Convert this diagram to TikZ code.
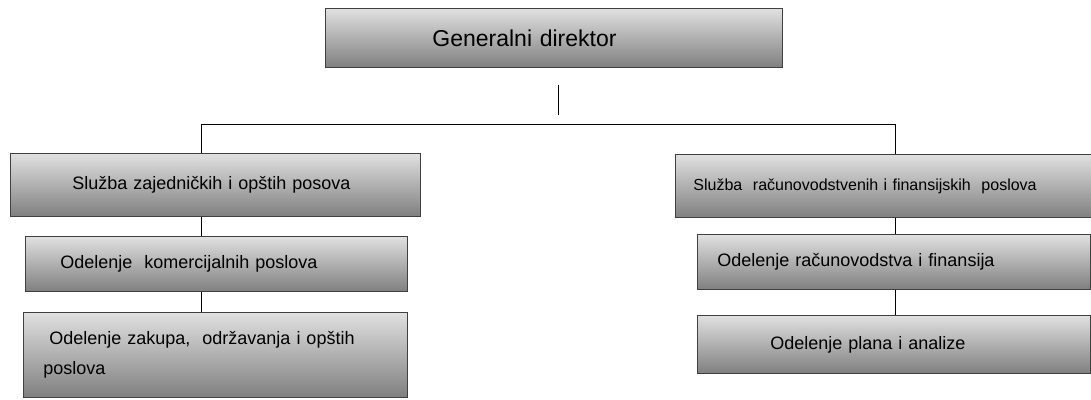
\documentclass[tikz,border=0pt]{standalone}
\usepackage{fontspec}
\setmainfont{Liberation Sans}
\tikzset{
	unit/.style={draw=black!75, line width=0.8pt, anchor=north west, align=left,
		top color=black!12, bottom color=black!50, inner ysep=0pt,
		font=\fontsize{18}{30}\selectfont},
	link/.style={line width=1pt}
}
\begin{document}
\begin{tikzpicture}[x=1pt,y=1pt]
	\useasboundingbox (0,0) rectangle (1091,399);
	\node [unit, minimum width=457, minimum height=59, inner xsep=107, text width=243,
		font=\fontsize{23}{28}\selectfont] (gd) at (325,391) {Generalni direktor};
	% left
	\node [unit, minimum width=410, minimum height=63, inner xsep=62, text width=286]
		(ls) at (10,246) {Služba zajedničkih i opštih posova};
	\node [unit, minimum width=382, minimum height=55, inner xsep=35, text width=312]
		(lk) at (25,163) {Odelenje~ komercijalnih poslova};
	\node [unit, minimum width=384, minimum height=85, inner xsep=20, text width=344]
		(lo) at (23,87) {\hspace*{6pt}Odelenje zakupa,~ održavanja i opštih\\poslova};
	% right
	\node [unit, minimum width=416, minimum height=63, inner xsep=18, text width=380,
		font=\fontsize{16}{20}\selectfont] (rs) at (675,245)
		{Služba~ računovodstvenih i finansijskih~ poslova};
	\node [unit, minimum width=393, minimum height=55, inner xsep=20, text width=353]
		(rr) at (697,165) {Odelenje računovodstva i finansija};
	\node [unit, minimum width=393, minimum height=58, inner xsep=73, text width=247]
		(rp) at (697,84) {Odelenje plana i analize};
	\coordinate (top) at (558,274);
	\coordinate (lbar) at (201,274);
	\coordinate (rbar) at (895,274);
	\draw [link, shorten <=17pt, shorten >=10pt] (top |- gd.south) -- (top);
	\draw [link] (lbar |- ls.north) -- (lbar) -- (rbar) -- (rbar |- rs.north);
	\draw [link] (lbar |- ls.south) -- (lbar |- lk.north);
	\draw [link] (lbar |- lk.south) -- (lbar |- lo.north);
	\draw [link] (rbar |- rs.south) -- (rbar |- rr.north);
	\draw [link] (rbar |- rr.south) -- (rbar |- rp.north);
\end{tikzpicture}
\end{document}
